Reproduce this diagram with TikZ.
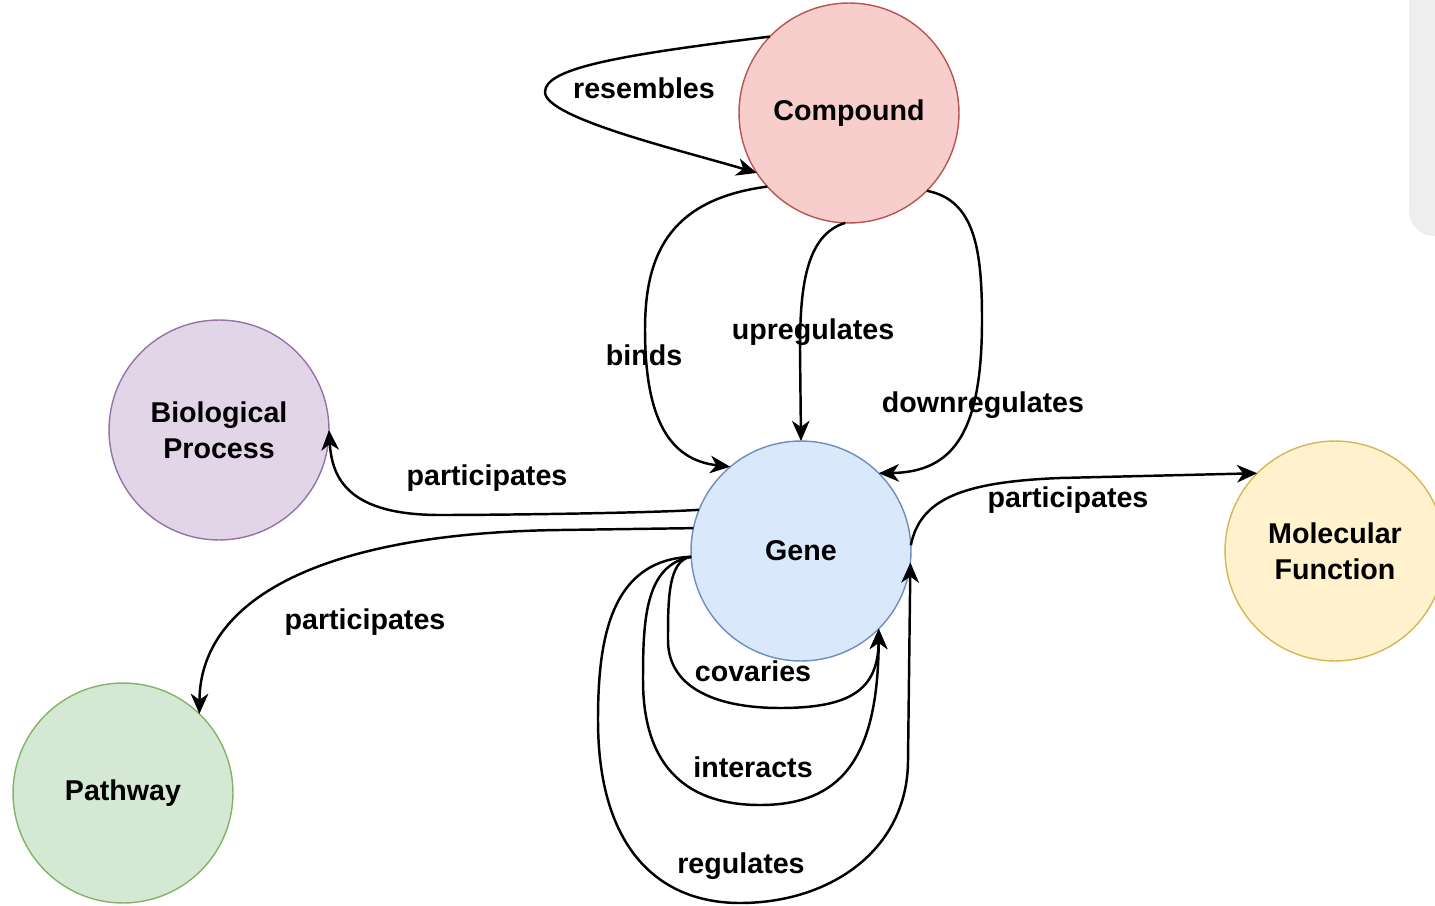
\documentclass[tikz,border=0pt]{standalone}
\usepackage{fontspec}
\setmainfont{Liberation Sans}
\usetikzlibrary{arrows.meta}
\definecolor{cmpfill}{HTML}{F8CECC}\definecolor{cmpline}{HTML}{B85450}
\definecolor{genfill}{HTML}{DAE8FC}\definecolor{genline}{HTML}{6C8EBF}
\definecolor{bpfill}{HTML}{E1D5E7}\definecolor{bpline}{HTML}{9673A6}
\definecolor{pwfill}{HTML}{D5E8D4}\definecolor{pwline}{HTML}{82B366}
\definecolor{mffill}{HTML}{FFF2CC}\definecolor{mfline}{HTML}{D6B656}
\definecolor{panelgray}{HTML}{EEEEEE}
\begin{document}
\begin{tikzpicture}[x=0.02cm, y=-0.02cm,
  every node/.style={font=\fontsize{16.3}{20.5}\selectfont\bfseries},
  entity/.style={circle, minimum size=4.4cm, inner sep=0pt, outer sep=0pt, line width=0.8pt, align=center},
  rel/.style={line width=1.4pt, -{Stealth[length=11.5pt,width=10pt,inset=3.5pt]}}]
   \useasboundingbox (0,0) rectangle (1435,905);
   \clip (0,0) rectangle (1435,905);
   \fill[panelgray, rounded corners=0.5cm] (1409,-40) rectangle (1470,236);
   \node[entity, fill=cmpfill, draw=cmpline] (Compound) at (849,113) {Compound};
   \node[entity, fill=genfill, draw=genline] (Gene) at (801,551) {Gene};
   \node[entity, fill=bpfill, draw=bpline] (BioProc) at (219,430) {Biological\\Process};
   \node[entity, fill=pwfill, draw=pwline] (Pathway) at (123,793) {Pathway};
   \node[entity, fill=mffill, draw=mfline] (MolFunc) at (1335,551) {Molecular\\Function};
   % compound edges
   \draw[rel] (Compound.136) .. controls (620,55) and (545,68) .. (545,92) .. controls (545,118) and (680,150) .. (Compound.213);
   \draw[rel] (Compound.222) .. controls (665,200) and (645,260) .. (645,330) .. controls (645,420) and (670,460) .. (Gene.130);
   \draw[rel] (Compound.268) .. controls (805,235) and (800,290) .. (800,350) -- (Gene.90);
   \draw[rel] (Compound.315) .. controls (975,200) and (982,250) .. (982,320) .. controls (982,430) and (955,472) .. (Gene.45);
   % participates
   \draw[rel] (Gene.158) .. controls (650,513) and (500,515) .. (440,515) .. controls (350,515) and (332,480) .. (BioProc.0);
   \draw[rel] (Gene.168) -- (560,530) .. controls (320,533) and (200,600) .. (Pathway.46);
   \draw[rel] (Gene.3) .. controls (920,500) and (960,482) .. (1060,478) -- (MolFunc.135);
   % gene loops
   \draw[rel] (Gene.183) .. controls (668,560) and (668,600) .. (668,640) .. controls (668,690) and (720,708) .. (780,708) .. controls (850,708) and (878,690) .. (Gene.315);
   \draw[rel] (Gene.183) .. controls (645,565) and (643,620) .. (643,680) .. controls (643,770) and (690,805) .. (760,805) .. controls (840,805) and (878,760) .. (Gene.315);
   \draw[rel] (Gene.183) .. controls (610,560) and (598,640) .. (598,720) .. controls (598,850) and (660,903) .. (740,903) .. controls (830,903) and (908,850) .. (908,760) -- (Gene.354);
   % labels
   \node (resembles) at (644,88) {resembles};
   \node (binds) at (644,355) {binds};
   \node (upreg) at (813,332) {upregulates};
   \node (downreg) at (983,405) {downregulates};
   \node (partBP) at (487,478) {participates};
   \node (partPW) at (365,622) {participates};
   \node (partMF) at (1068,500) {participates};
   \node (covaries) at (753,671) {covaries};
   \node (interacts) at (753,767) {interacts};
   \node (regulates) at (741,866) {regulates};
\end{tikzpicture}
\end{document}
